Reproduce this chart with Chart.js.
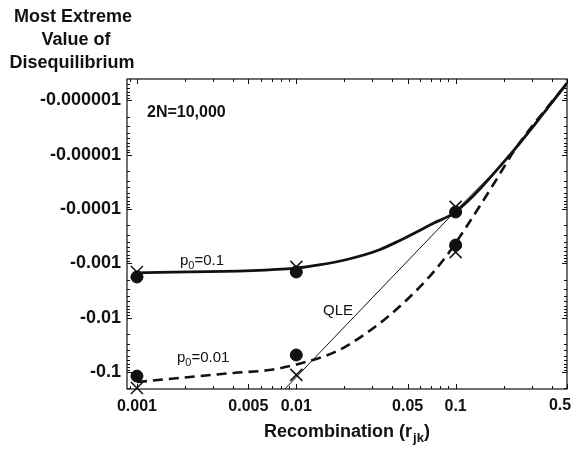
<!DOCTYPE html>
<html>
<head>
<meta charset="utf-8">
<script src="https://cdn.jsdelivr.net/npm/chart.js@4/dist/chart.umd.min.js"></script>
<style>
  html, body { margin: 0; padding: 0; background: #fff; }
  #wrap { width: 577px; height: 451px; }
</style>
</head>
<body>
<div id="wrap"><canvas id="chart" width="577" height="451"></canvas></div>
<script>
// tick labels
const xTickValues = [0.001, 0.005, 0.01, 0.05, 0.1, 0.5];
const xTickLabels = ['0.001', '0.005', '0.01', '0.05', '0.1', '0.5'];
const yTickValues = [1e-6, 1e-5, 1e-4, 1e-3, 1e-2, 1e-1];
const yTickLabels = ['-0.000001', '-0.00001', '-0.0001', '-0.001', '-0.01', '-0.1'];

// curves, |D| against r (axis labels carry the minus sign)
const rP01 = [0.001, 0.01, 0.0139, 0.0214, 0.033, 0.044, 0.071, 0.1, 0.224, 0.5];
const dP01 = [0.0015, 0.00122, 0.00107, 0.00083, 0.000566, 0.000386, 0.000188, 0.000112, 0.0000093, 0.00000048];

const rP001 = [0.001, 0.00404, 0.00678, 0.01, 0.0178, 0.0248, 0.0355, 0.0508, 0.0708, 0.0904, 0.1155, 0.178, 0.237, 0.5];
const dP001 = [0.153, 0.104, 0.0918, 0.0728, 0.0419, 0.0237, 0.011, 0.00433, 0.00157, 0.000643, 0.000223, 0.0000304, 0.0000078, 0.00000048];

const rQle = [0.007, 0.1, 0.2, 0.5];
const dQle = [0.37, 0.000108, 0.000014, 0.0000005];

// simulation points
const rSim = [0.001, 0.01, 0.1];
const dP01Dots = [0.00178, 0.00144, 0.000113];
const dP01Cross = [0.00144, 0.00116, 0.000091];
const dP001Dots = [0.119, 0.0486, 0.00046];
const dP001Cross = [0.197, 0.113, 0.00062];

const FONT = '"Liberation Sans", Arial, Helvetica, sans-serif';
const INK = '#111';

const pts = (xs, ys) => xs.map((x, i) => ({ x: x, y: ys[i] }));

function logMinors(lo, hi) {
  const out = [];
  for (let e = -7; e <= 0; e++) {
    for (let m = 1; m <= 9; m++) {
      const v = m * Math.pow(10, e);
      if (v >= lo * 0.9999 && v <= hi * 1.0001) out.push({ v: v, major: m === 1 });
    }
  }
  return out;
}

const xMin = 0.000866, xMax = 0.5;
const yMin = 4.02e-7, yMax = 0.2056;
const xAllTicks = logMinors(xMin, xMax);
const yAllTicks = logMinors(yMin, yMax);

function labelFor(values, labels, v) {
  const i = values.findIndex(t => Math.abs(t - v) / t < 1e-6);
  return i >= 0 ? labels[i] : '';
}

// box, inward ticks and free text
const framePlugin = {
  id: 'frame',
  afterDraw: (chart) => {
    const ctx = chart.ctx;
    const a = chart.chartArea;
    const xs = chart.scales.x;
    const ys = chart.scales.y;
    ctx.save();
    ctx.strokeStyle = INK;
    ctx.lineWidth = 1.2;
    ctx.strokeRect(a.left, a.top, a.right - a.left, a.bottom - a.top);

    ctx.lineWidth = 1;
    ctx.beginPath();
    for (const t of xAllTicks) {
      const px = Math.round(xs.getPixelForValue(t.v)) + 0.5;
      const len = (xTickValues.some(v => Math.abs(v - t.v) / v < 1e-6) || t.major) ? 5 : 3;
      ctx.moveTo(px, a.bottom); ctx.lineTo(px, a.bottom - len);
      ctx.moveTo(px, a.top); ctx.lineTo(px, a.top + len);
    }
    for (const t of yAllTicks) {
      const py = Math.round(ys.getPixelForValue(t.v)) + 0.5;
      const len = t.major ? 5 : 3;
      ctx.moveTo(a.left, py); ctx.lineTo(a.left + len, py);
      ctx.moveTo(a.right, py); ctx.lineTo(a.right - len, py);
    }
    ctx.stroke();

    ctx.fillStyle = INK;
    ctx.textBaseline = 'alphabetic';

    // last x label sits inside the canvas edge
    ctx.font = 'bold 16px ' + FONT;
    ctx.textAlign = 'center';
    ctx.fillText('0.5', xs.getPixelForValue(0.5) - 7, 410);

    // y title
    ctx.font = 'bold 18px ' + FONT;
    ctx.fillText('Most Extreme', 73, 22);
    ctx.fillText('Value of', 76, 45);
    ctx.fillText('Disequilibrium', 72, 68);

    // x title with subscript
    const main = 'Recombination (r';
    ctx.font = 'bold 18px ' + FONT;
    const w1 = ctx.measureText(main).width;
    const w3 = ctx.measureText(')').width;
    ctx.font = 'bold 13px ' + FONT;
    const w2 = ctx.measureText('jk').width + 1;
    let x0 = (a.left + a.right) / 2 - (w1 + w2 + w3) / 2;
    ctx.textAlign = 'left';
    ctx.font = 'bold 18px ' + FONT;
    ctx.fillText(main, x0, 437);
    ctx.font = 'bold 13px ' + FONT;
    ctx.fillText('jk', x0 + w1 + 1, 442);
    ctx.font = 'bold 18px ' + FONT;
    ctx.fillText(')', x0 + w1 + w2, 437);

    // annotations
    ctx.font = 'bold 16px ' + FONT;
    ctx.fillText('2N=10,000', 147, 117);

    const subLabel = (x, y, tail) => {
      ctx.font = '15px ' + FONT;
      ctx.fillText('p', x, y);
      const wp = ctx.measureText('p').width;
      ctx.font = '11px ' + FONT;
      ctx.fillText('0', x + wp, y + 4);
      const w0 = ctx.measureText('0').width;
      ctx.font = '15px ' + FONT;
      ctx.fillText(tail, x + wp + w0, y);
    };
    subLabel(180, 265, '=0.1');
    subLabel(177, 362, '=0.01');

    ctx.font = '15px ' + FONT;
    ctx.fillText('QLE', 323, 315);
    ctx.restore();
  }
};

const markerSet = (data, style, radius, width) => ({
  data: data,
  showLine: false,
  pointStyle: style,
  pointRadius: radius,
  pointHoverRadius: radius,
  pointBackgroundColor: INK,
  pointBorderColor: INK,
  pointBorderWidth: width,
  clip: false
});

new Chart(document.getElementById('chart'), {
  type: 'scatter',
  data: {
    datasets: [
      {
        data: pts(rQle, dQle),
        showLine: true,
        borderColor: INK,
        borderWidth: 1,
        pointRadius: 0,
        tension: 0
      },
      {
        data: pts(rP01, dP01),
        showLine: true,
        borderColor: INK,
        borderWidth: 2.8,
        pointRadius: 0,
        cubicInterpolationMode: 'monotone'
      },
      {
        data: pts(rP001, dP001),
        showLine: true,
        borderColor: INK,
        borderWidth: 2.6,
        borderDash: [10, 6],
        pointRadius: 0,
        cubicInterpolationMode: 'monotone'
      },
      markerSet(pts(rSim, dP01Dots), 'circle', 6, 1),
      markerSet(pts(rSim, dP01Cross), 'crossRot', 8.5, 1.5),
      markerSet(pts(rSim, dP001Dots), 'circle', 6, 1),
      markerSet(pts(rSim, dP001Cross), 'crossRot', 8.5, 1.5)
    ]
  },
  options: {
    responsive: false,
    animation: false,
    events: [],
    layout: { padding: { left: 0, right: 8, top: 79, bottom: 0 } },
    plugins: { legend: { display: false }, tooltip: { enabled: false } },
    scales: {
      x: {
        type: 'logarithmic',
        position: 'bottom',
        min: xMin,
        max: xMax,
        grid: { display: false, drawTicks: false },
        border: { display: false },
        afterBuildTicks: (scale) => { scale.ticks = xAllTicks.map(t => ({ value: t.v })); },
        afterFit: (scale) => { scale.height = 62; scale.paddingLeft = 0; scale.paddingRight = 0; },
        ticks: {
          autoSkip: false,
          maxRotation: 0,
          minRotation: 0,
          padding: 8,
          color: INK,
          font: { family: FONT, size: 16, weight: 'bold' },
          callback: (v) => (Math.abs(v - 0.5) < 1e-9 ? '' : labelFor(xTickValues, xTickLabels, v))
        }
      },
      y: {
        type: 'logarithmic',
        position: 'left',
        reverse: true,
        min: yMin,
        max: yMax,
        grid: { display: false, drawTicks: false },
        border: { display: false },
        afterBuildTicks: (scale) => { scale.ticks = yAllTicks.map(t => ({ value: t.v })); },
        afterFit: (scale) => { scale.width = 127; scale.paddingTop = 0; scale.paddingBottom = 0; },
        ticks: {
          autoSkip: false,
          padding: 6,
          color: INK,
          font: { family: FONT, size: 18, weight: 'bold' },
          callback: (v) => labelFor(yTickValues, yTickLabels, v)
        }
      }
    }
  },
  plugins: [framePlugin]
});
</script>
</body>
</html>
